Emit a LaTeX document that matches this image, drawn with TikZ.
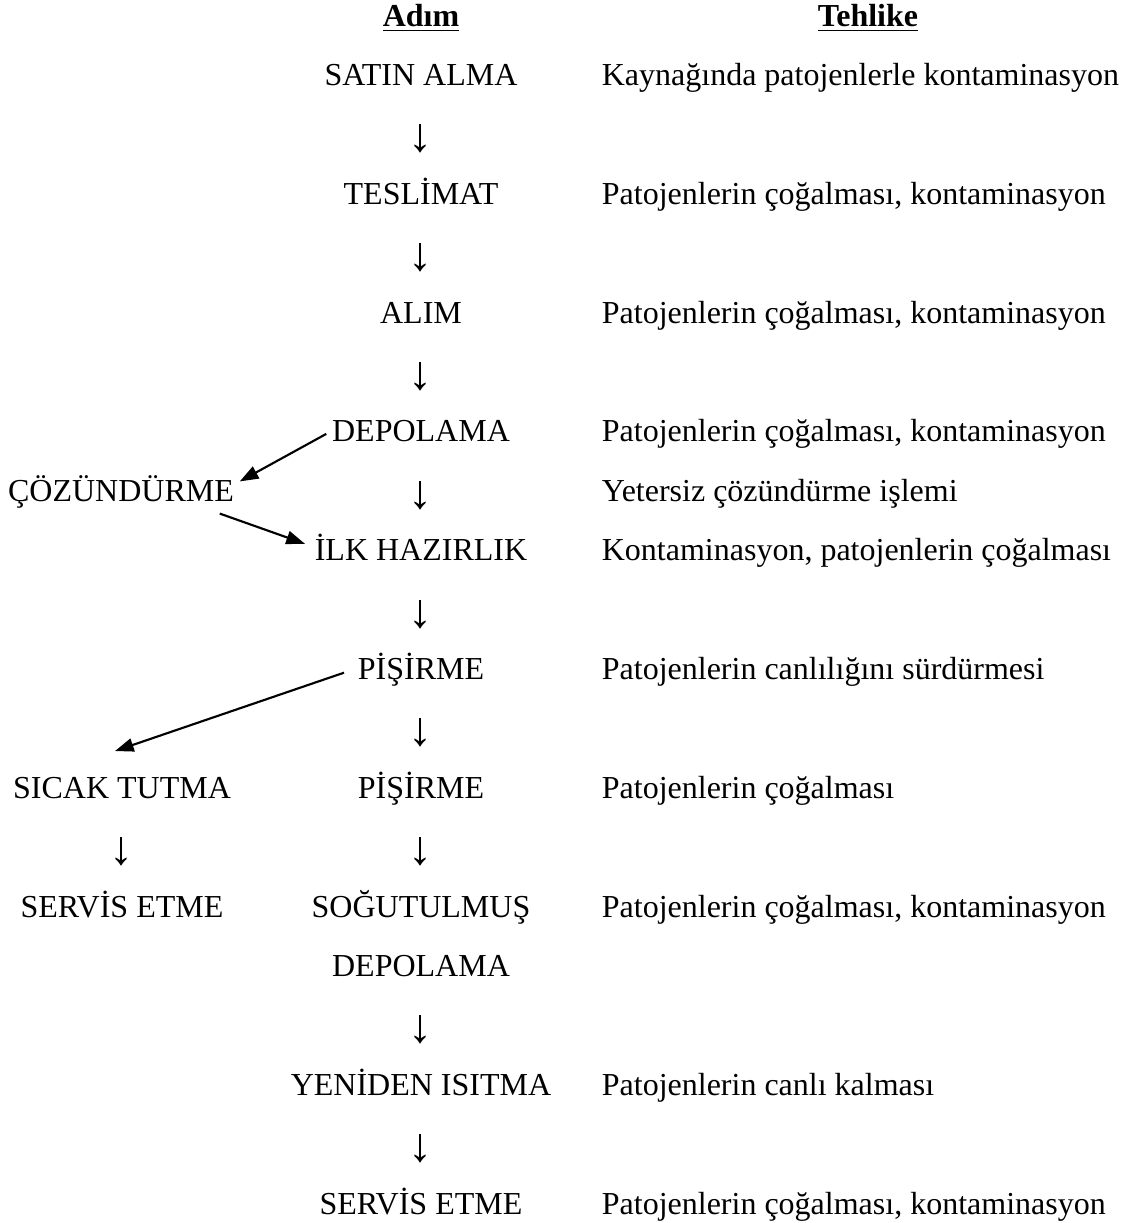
\documentclass[tikz,border=0pt]{standalone}
\usepackage{fontspec}
\setmainfont{Liberation Serif}
\usepackage{tikz}
\usetikzlibrary{shapes,arrows,arrows.meta,positioning,calc}

\newcommand{\asagiok}{\raisebox{-2.6pt}{\scalebox{1.5}{↓}}}

\begin{document}
\begin{tikzpicture}[x=0.375pt, y=-22.275pt,
    every node/.style={font=\fontsize{12pt}{14pt}\selectfont, inner sep=2pt, text height=8.4pt, text depth=2.4pt},
    adim/.style={anchor=base},
    tehlike/.style={anchor=base west},
    ok/.style={anchor=base},
    akis/.style={line width=0.8pt, -{Triangle[length=7pt,width=5pt]}}]
    \useasboundingbox (0,-0.4394) rectangle (1129,20.15);

    % basliklar
    \node[adim] (adimbaslik) at (421,0) {\underline{\textbf{Adım}}};
    \node[adim] (tehlikebaslik) at (868,0) {\underline{\textbf{Tehlike}}};

    % ana akis
    \node[adim] (satin) at (421,1) {SATIN ALMA};
    \node[ok] (ok1) at (421,2) {\asagiok};
    \node[adim] (teslimat) at (421,3) {TESLİMAT};
    \node[ok] (ok2) at (421,4) {\asagiok};
    \node[adim] (alim) at (421,5) {ALIM};
    \node[ok] (ok3) at (421,6) {\asagiok};
    \node[adim] (depo) at (421,7) {DEPOLAMA};
    \node[ok] (ok4) at (421,8) {\asagiok};
    \node[adim] (ilk) at (421,9) {İLK HAZIRLIK};
    \node[ok] (ok5) at (421,10) {\asagiok};
    \node[adim] (pis1) at (421,11) {PİŞİRME};
    \node[ok] (ok6) at (421,12) {\asagiok};
    \node[adim] (pis2) at (421,13) {PİŞİRME};
    \node[ok] (ok7) at (421,14) {\asagiok};
    \node[adim] (sogut) at (421,15) {SOĞUTULMUŞ};
    \node[adim] (sogutdepo) at (421,16) {DEPOLAMA};
    \node[ok] (ok8) at (421,17) {\asagiok};
    \node[adim] (isitma) at (421,18) {YENİDEN ISITMA};
    \node[ok] (ok9) at (421,19) {\asagiok};
    \node[adim] (servis) at (421,20) {SERVİS ETME};

    % yan kol
    \node[adim] (cozun) at (121,8) {ÇÖZÜNDÜRME};
    \node[adim] (sicak) at (122,13) {SICAK TUTMA};
    \node[ok] (ok10) at (122,14) {\asagiok};
    \node[adim] (sicakservis) at (122,15) {SERVİS ETME};

    % tehlikeler
    \node[tehlike] (t1) at (596,1) {Kaynağında patojenlerle kontaminasyon};
    \node[tehlike] (t2) at (596,3) {Patojenlerin çoğalması, kontaminasyon};
    \node[tehlike] (t3) at (596,5) {Patojenlerin çoğalması, kontaminasyon};
    \node[tehlike] (t4) at (596,7) {Patojenlerin çoğalması, kontaminasyon};
    \node[tehlike] (t5) at (596,8) {Yetersiz çözündürme işlemi};
    \node[tehlike] (t6) at (596,9) {Kontaminasyon, patojenlerin çoğalması};
    \node[tehlike] (t7) at (596,11) {Patojenlerin canlılığını sürdürmesi};
    \node[tehlike] (t8) at (596,13) {Patojenlerin çoğalması};
    \node[tehlike] (t9) at (596,15) {Patojenlerin çoğalması, kontaminasyon};
    \node[tehlike] (t10) at (596,18) {Patojenlerin canlı kalması};
    \node[tehlike] (t11) at (596,20) {Patojenlerin çoğalması, kontaminasyon};

    % egik oklar
    \draw[akis] (depo.west) -- ($(cozun.east)+(0,-0.2)$);
    \draw[akis] ($(cozun.south east)+(-20,0)$) -- ($(ilk.west)+(-4,-0.15)$);
    \draw[akis] ($(pis1.west)+(-8,0.02)$) -- ($(sicak.north)+(-7,-0.32)$);
\end{tikzpicture}
\end{document}
